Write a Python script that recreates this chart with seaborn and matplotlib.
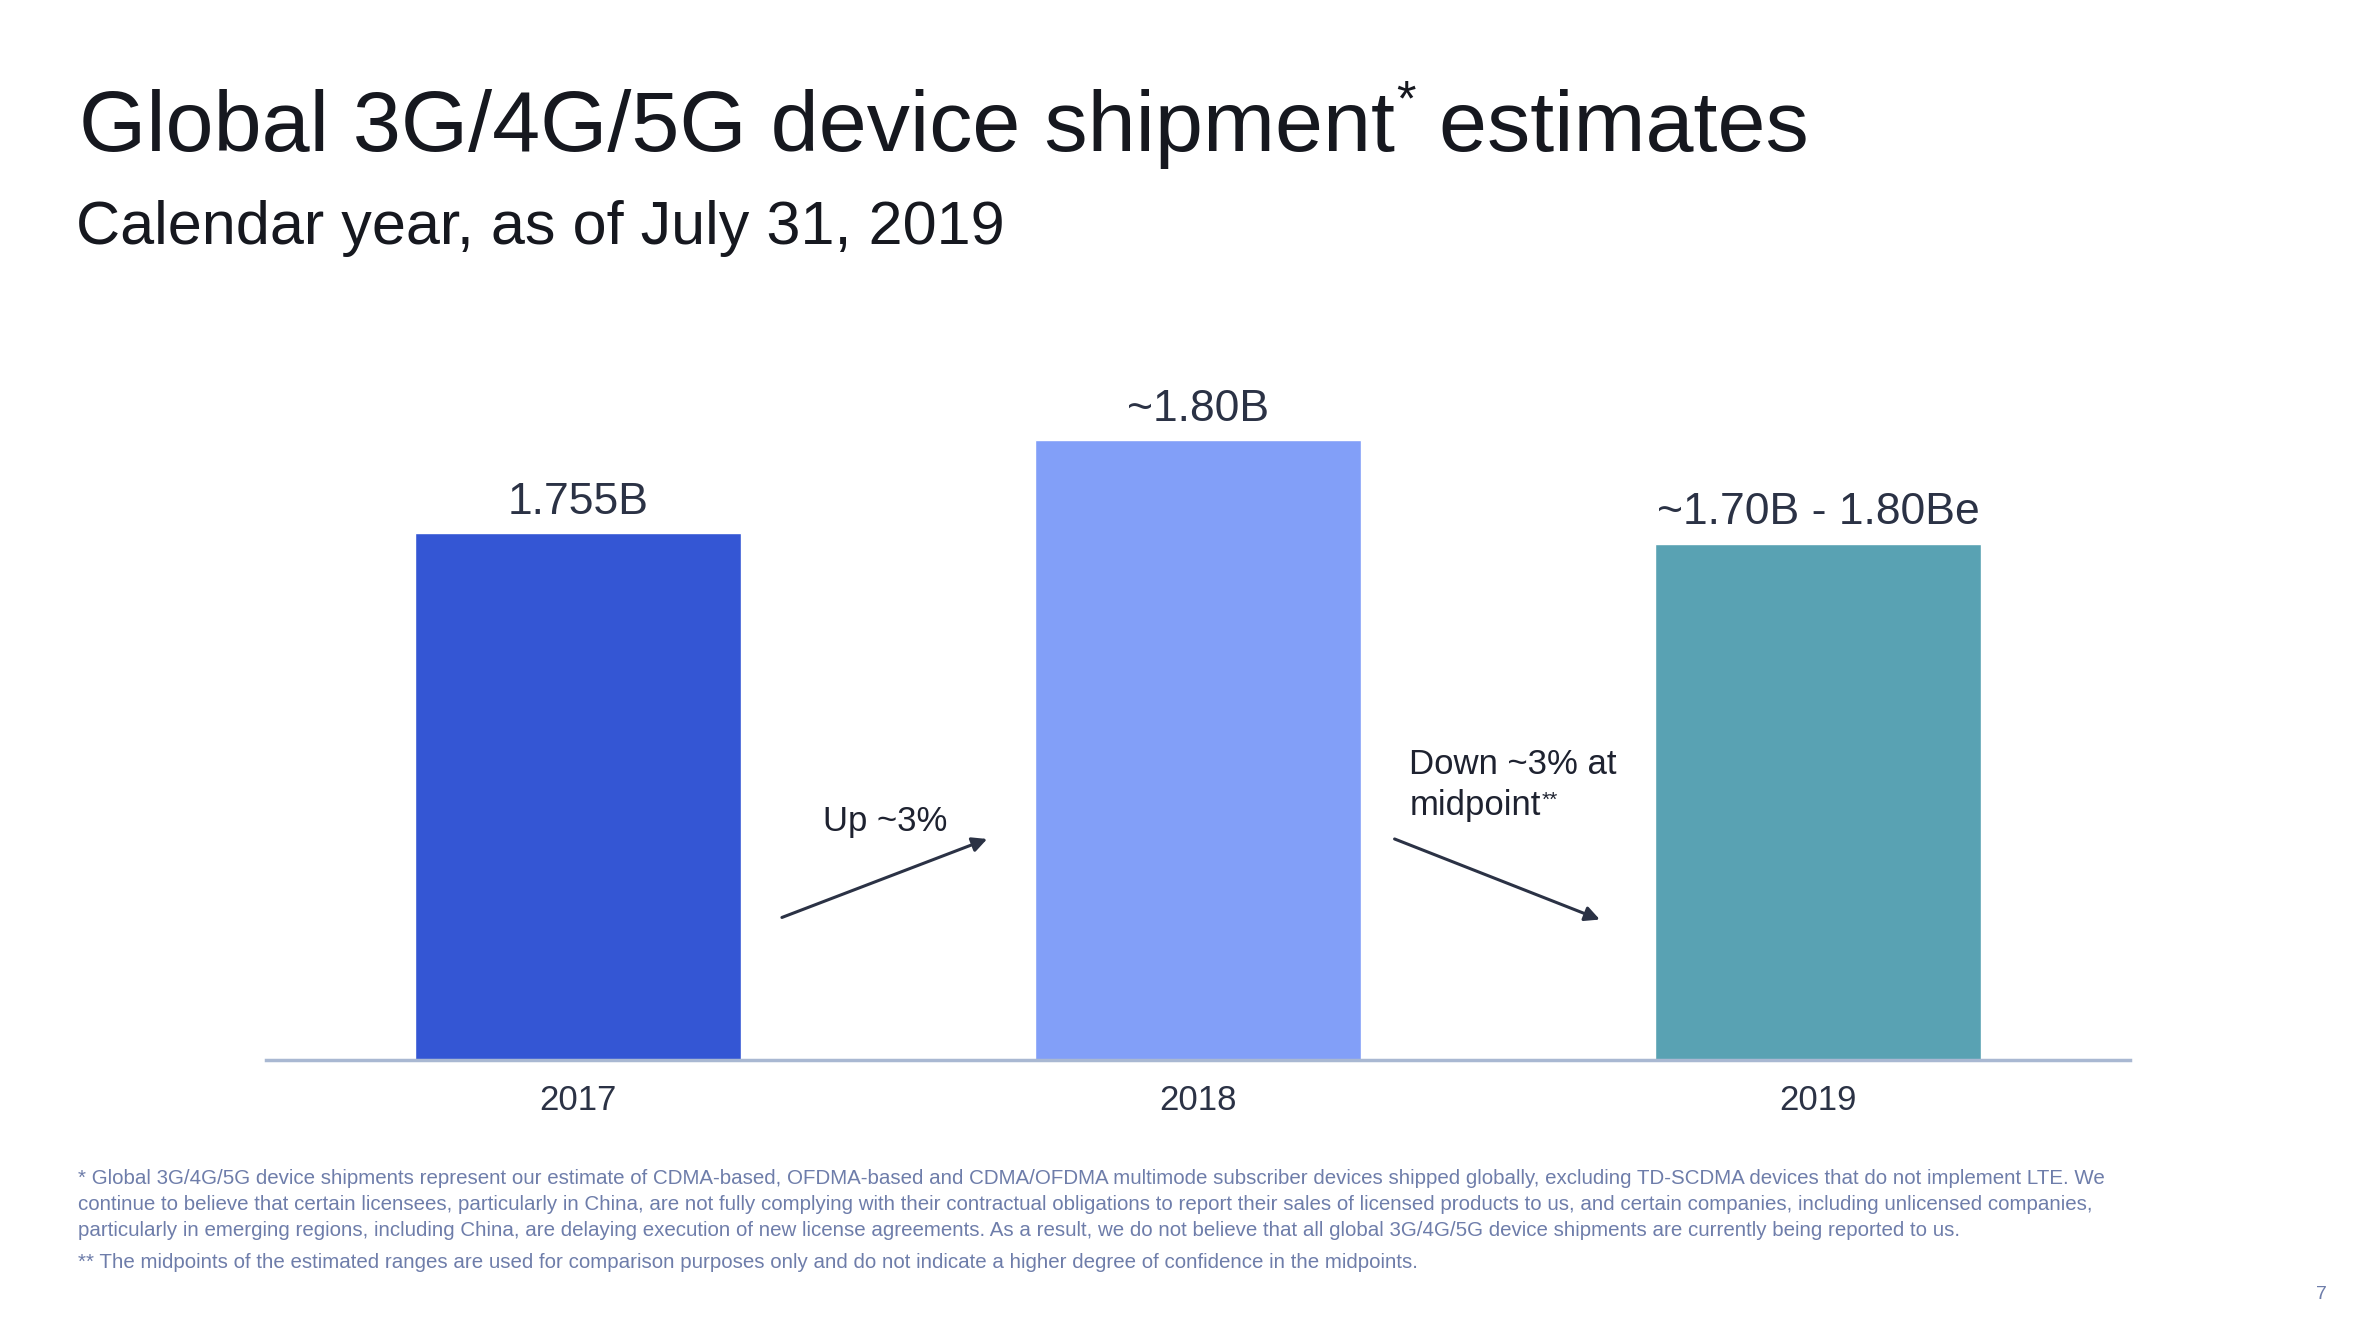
import matplotlib
matplotlib.use("Agg")
import matplotlib.pyplot as plt
import seaborn as sns
import pandas as pd

# ---- data ----
years = ["2017", "2018", "2019"]
shipments_b = [1.755, 1.80, 1.75]          # 2019 = midpoint of 1.70B - 1.80B estimate
value_labels = ["1.755B", "~1.80B", "~1.70B - 1.80Be"]
bar_colors = ["#3456D4", "#829FF8", "#59A2B3"]
up_label = "Up ~3%"
down_label_lines = ["Down ~3% at", "midpoint"]

title_main = "Global 3G/4G/5G device shipment"
title_tail = " estimates"
subtitle = "Calendar year, as of July 31, 2019"
footnotes = [
    "* Global 3G/4G/5G device shipments represent our estimate of CDMA-based, OFDMA-based and CDMA/OFDMA multimode subscriber devices shipped globally, excluding TD-SCDMA devices that do not implement LTE. We",
    "continue to believe that certain licensees, particularly in China, are not fully complying with their contractual obligations to report their sales of licensed products to us, and certain companies, including unlicensed companies,",
    "particularly in emerging regions, including China, are delaying execution of new license agreements. As a result, we do not believe that all global 3G/4G/5G device shipments are currently being reported to us.",
    "** The midpoints of the estimated ranges are used for comparison purposes only and do not indicate a higher degree of confidence in the midpoints.",
]
page_number = "7"

df = pd.DataFrame({"year": years, "shipments": shipments_b})

sns.set_theme(style="white")
plt.rcParams["font.family"] = ["Liberation Sans", "DejaVu Sans"]

W, H, DPI = 23.78, 13.34, 100
fig = plt.figure(figsize=(W, H), dpi=DPI)
fig.patch.set_facecolor("white")

ax = fig.add_axes([266 / 2378, 274 / 1334, 1864 / 2378, 723 / 1334])
sns.barplot(data=df, x="year", y="shipments", hue="year", palette=bar_colors,
            width=0.526, dodge=False, legend=False, ax=ax, saturation=1)
ax.set_xlim(-0.503, 2.503)
ax.set_ylim(1.5, 1.85)
ax.set_facecolor("white")
for s in ["top", "right", "left"]:
    ax.spines[s].set_visible(False)
ax.spines["bottom"].set_color("#A9B8D2")
ax.spines["bottom"].set_linewidth(2.5)
ax.set_yticks([])
ax.set_xlabel("")
ax.set_ylabel("")
ax.tick_params(axis="x", length=0, pad=17, labelsize=25, labelcolor="#2B3245")

label_color = "#2B3245"
for i, (v, lab) in enumerate(zip(shipments_b, value_labels)):
    ax.annotate(lab, xy=(i, v), xytext=(0, 14), textcoords="offset points",
                ha="center", va="baseline", fontsize=32, color=label_color)

# change arrows between bars
arrow_kw = dict(arrowstyle="-|>", color="#2B3245", lw=2.2, mutation_scale=22,
                shrinkA=0, shrinkB=0)
ax.annotate("", xy=(0.660, 1.607), xytext=(0.329, 1.569), arrowprops=arrow_kw)
ax.annotate("", xy=(1.648, 1.568), xytext=(1.317, 1.607), arrowprops=arrow_kw)

text_dark = "#1E2230"
ax.text(0.395, 1.611, up_label, fontsize=25, color=text_dark,
        ha="left", va="baseline")
down_x = 1.341
down_y1, down_y2 = 1.6385, 1.6185
ax.text(down_x, down_y1, down_label_lines[0], fontsize=25, color=text_dark,
        ha="left", va="baseline")
mid = ax.text(down_x, down_y2, down_label_lines[1], fontsize=25, color=text_dark,
              ha="left", va="baseline")

renderer = fig.canvas.get_renderer()

# superscript ** after "midpoint"
mb = mid.get_window_extent(renderer)
base_px = ax.transData.transform((down_x, down_y2))
fig.text((mb.x1 + 1) / (W * DPI), (base_px[1] + 9) / (H * DPI), "**",
         fontsize=15, color=text_dark, ha="left", va="baseline")

# title with superscript asterisk
title_color = "#16181F"
tx, ty = 79 / 2378, 1 - 151 / 1334
t1 = fig.text(tx, ty, title_main, fontsize=62.2, color=title_color,
              ha="left", va="baseline")
b1 = t1.get_window_extent(renderer)
t2 = fig.text((b1.x1 + 1) / (W * DPI), ty + 36 / (H * DPI), "*", fontsize=36,
              color=title_color, ha="left", va="baseline")
b2 = t2.get_window_extent(renderer)
fig.text(b2.x1 / (W * DPI), ty, title_tail, fontsize=62.2, color=title_color,
         ha="left", va="baseline")

fig.text(76 / 2378, 1 - 244 / 1334, subtitle, fontsize=44, color=title_color,
         ha="left", va="baseline")

foot_color = "#6E7DAA"
foot_y = [1184, 1210, 1236, 1268]
for line, yy in zip(footnotes, foot_y):
    fig.text(78 / 2378, 1 - yy / 1334, line, fontsize=14.8, color=foot_color,
             ha="left", va="baseline")
fig.text(2321 / 2378, 1 - 1299 / 1334, page_number, fontsize=14, color=foot_color,
         ha="center", va="baseline")

fig.savefig("out.png", dpi=DPI, facecolor="white")
